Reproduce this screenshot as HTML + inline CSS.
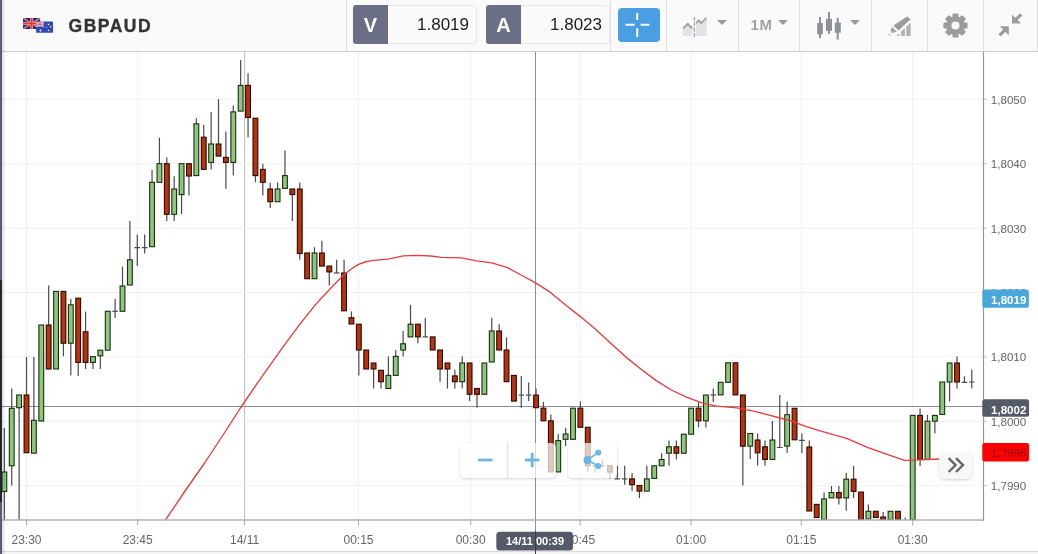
<!DOCTYPE html>
<html lang="en">
<head>
<meta charset="utf-8">
<title>GBPAUD chart</title>
<style>
html,body{margin:0;padding:0;}
body{width:1038px;height:554px;overflow:hidden;background:#fff;position:relative;font-family:"Liberation Sans",Arial,sans-serif;}
#chart{position:absolute;left:0;top:0;}
#hdr{position:absolute;left:0;top:0;width:1038px;height:51px;background:#fafafa;border-bottom:1px solid #cdcdcd;z-index:2;}
#leftbar{position:absolute;left:0;top:0;width:2px;height:554px;background:#5a5d71;z-index:5;}
#leftsh{position:absolute;left:2px;top:0;width:4px;height:554px;background:linear-gradient(to right,rgba(0,0,0,0.13),rgba(0,0,0,0));z-index:5;}
.sep{position:absolute;top:0;width:1px;height:51px;background:#e0e0e0;}
.sym{position:absolute;left:68.6px;top:12.5px;height:26px;line-height:26px;font-size:17.5px;font-weight:bold;color:#333;letter-spacing:1.5px;-webkit-text-stroke:0.35px #333;}
.pbtn{position:absolute;top:5px;height:38.5px;}
.pbtn .k{position:absolute;left:0;top:0;width:35px;height:38.5px;background:#6b6f85;color:#fff;font-weight:bold;font-size:20px;line-height:40.5px;text-align:center;border-radius:3px 0 0 3px;}
.pbtn .v{position:absolute;left:35px;top:0;width:88px;height:36.5px;border:1px solid #e9e9e9;border-left:none;background:#fafafa;border-radius:0 4px 4px 0;color:#222;font-size:17px;line-height:37px;text-align:right;}
.pbtn .v span{display:inline-block;padding-right:7px;letter-spacing:0px;}
#cross{position:absolute;left:618.3px;top:7.5px;width:41.5px;height:34.5px;border-radius:4px;background:#4a9fe3;}
.tb{position:absolute;top:0;height:50px;}
.dd{position:absolute;top:19.8px;width:0;height:0;border-left:5px solid transparent;border-right:5px solid transparent;border-top:5.4px solid #9a9a9a;}
.tf{position:absolute;left:750.5px;top:14px;font-size:15px;font-weight:bold;color:#a2a2a2;line-height:22px;letter-spacing:0.7px;}
.ctl{position:absolute;background:rgba(255,255,255,0.72);border-radius:5px;box-shadow:0 1px 3px rgba(0,0,0,0.18);z-index:3;}
</style>
</head>
<body>
<svg id="chart" width="1038" height="554" viewBox="0 0 1038 554" font-family="'Liberation Sans', sans-serif">
<defs><clipPath id="cp"><rect x="0" y="52" width="983.5" height="468"/></clipPath></defs>
<line x1="26.5" y1="52" x2="26.5" y2="520" stroke="#efefef" stroke-width="1"/>
<line x1="137.7" y1="52" x2="137.7" y2="520" stroke="#efefef" stroke-width="1"/>
<line x1="244.6" y1="52" x2="244.6" y2="520" stroke="#bcbcbc" stroke-width="1"/>
<line x1="358.5" y1="52" x2="358.5" y2="520" stroke="#efefef" stroke-width="1"/>
<line x1="470.7" y1="52" x2="470.7" y2="520" stroke="#efefef" stroke-width="1"/>
<line x1="580.2" y1="52" x2="580.2" y2="520" stroke="#efefef" stroke-width="1"/>
<line x1="691.1" y1="52" x2="691.1" y2="520" stroke="#efefef" stroke-width="1"/>
<line x1="801.3" y1="52" x2="801.3" y2="520" stroke="#efefef" stroke-width="1"/>
<line x1="912.7" y1="52" x2="912.7" y2="520" stroke="#efefef" stroke-width="1"/>
<line x1="0" y1="99.3" x2="983.5" y2="99.3" stroke="#f1f1f1" stroke-width="1"/>
<line x1="0" y1="163.7" x2="983.5" y2="163.7" stroke="#f1f1f1" stroke-width="1"/>
<line x1="0" y1="228.2" x2="983.5" y2="228.2" stroke="#f1f1f1" stroke-width="1"/>
<line x1="0" y1="292.5" x2="983.5" y2="292.5" stroke="#f1f1f1" stroke-width="1"/>
<line x1="0" y1="356.9" x2="983.5" y2="356.9" stroke="#f1f1f1" stroke-width="1"/>
<line x1="0" y1="421.3" x2="983.5" y2="421.3" stroke="#f1f1f1" stroke-width="1"/>
<line x1="0" y1="485.7" x2="983.5" y2="485.7" stroke="#f1f1f1" stroke-width="1"/>
<line x1="0" y1="406.5" x2="983.5" y2="406.5" stroke="#8e8e8e" stroke-width="1"/>
<line x1="535.5" y1="52" x2="535.5" y2="554" stroke="#8e8e8e" stroke-width="1"/>
<g clip-path="url(#cp)">
<line x1="4.34" y1="428.0" x2="4.34" y2="520.0" stroke="#4a4a4a" stroke-width="1.2"/>
<rect x="1.94" y="472.0" width="4.8" height="19.5" fill="#8ec67d" stroke="#16300f" stroke-width="1.1"/>
<line x1="11.73" y1="388.6" x2="11.73" y2="485.5" stroke="#4a4a4a" stroke-width="1.2"/>
<rect x="9.33" y="408.3" width="4.8" height="57.5" fill="#8ec67d" stroke="#16300f" stroke-width="1.1"/>
<line x1="19.12" y1="395.0" x2="19.12" y2="520.0" stroke="#4a4a4a" stroke-width="1.2"/>
<rect x="16.72" y="395.0" width="4.8" height="12.7" fill="#8ec67d" stroke="#16300f" stroke-width="1.1"/>
<line x1="26.50" y1="357.0" x2="26.50" y2="452.7" stroke="#4a4a4a" stroke-width="1.2"/>
<rect x="24.10" y="395.0" width="4.8" height="57.7" fill="#b8320f" stroke="#2a0a00" stroke-width="1.1"/>
<line x1="33.88" y1="357.0" x2="33.88" y2="453.2" stroke="#4a4a4a" stroke-width="1.2"/>
<rect x="31.48" y="420.3" width="4.8" height="32.9" fill="#8ec67d" stroke="#16300f" stroke-width="1.1"/>
<line x1="41.27" y1="325.0" x2="41.27" y2="421.0" stroke="#4a4a4a" stroke-width="1.2"/>
<rect x="38.87" y="325.0" width="4.8" height="96.0" fill="#8ec67d" stroke="#16300f" stroke-width="1.1"/>
<line x1="48.66" y1="285.5" x2="48.66" y2="369.0" stroke="#4a4a4a" stroke-width="1.2"/>
<rect x="46.26" y="325.0" width="4.8" height="44.0" fill="#b8320f" stroke="#2a0a00" stroke-width="1.1"/>
<line x1="56.04" y1="291.4" x2="56.04" y2="369.0" stroke="#4a4a4a" stroke-width="1.2"/>
<rect x="53.64" y="291.4" width="4.8" height="77.6" fill="#8ec67d" stroke="#16300f" stroke-width="1.1"/>
<line x1="63.42" y1="291.4" x2="63.42" y2="356.3" stroke="#4a4a4a" stroke-width="1.2"/>
<rect x="61.02" y="291.4" width="4.8" height="51.8" fill="#b8320f" stroke="#2a0a00" stroke-width="1.1"/>
<line x1="70.81" y1="299.0" x2="70.81" y2="375.5" stroke="#4a4a4a" stroke-width="1.2"/>
<rect x="68.41" y="304.8" width="4.8" height="38.4" fill="#8ec67d" stroke="#16300f" stroke-width="1.1"/>
<line x1="78.19" y1="298.2" x2="78.19" y2="376.0" stroke="#4a4a4a" stroke-width="1.2"/>
<rect x="75.79" y="298.2" width="4.8" height="64.2" fill="#b8320f" stroke="#2a0a00" stroke-width="1.1"/>
<line x1="85.58" y1="311.6" x2="85.58" y2="369.0" stroke="#4a4a4a" stroke-width="1.2"/>
<rect x="83.18" y="331.8" width="4.8" height="30.6" fill="#b8320f" stroke="#2a0a00" stroke-width="1.1"/>
<line x1="92.97" y1="356.6" x2="92.97" y2="369.0" stroke="#4a4a4a" stroke-width="1.2"/>
<rect x="90.56" y="356.6" width="4.8" height="5.8" fill="#8ec67d" stroke="#16300f" stroke-width="1.1"/>
<line x1="100.35" y1="350.2" x2="100.35" y2="369.0" stroke="#4a4a4a" stroke-width="1.2"/>
<rect x="97.95" y="350.2" width="4.8" height="5.6" fill="#8ec67d" stroke="#16300f" stroke-width="1.1"/>
<line x1="107.73" y1="311.3" x2="107.73" y2="350.2" stroke="#4a4a4a" stroke-width="1.2"/>
<rect x="105.33" y="311.3" width="4.8" height="38.9" fill="#8ec67d" stroke="#16300f" stroke-width="1.1"/>
<line x1="115.12" y1="299.0" x2="115.12" y2="318.0" stroke="#4a4a4a" stroke-width="1.2"/>
<line x1="112.32" y1="311.3" x2="117.92" y2="311.3" stroke="#4a4a4a" stroke-width="1.2"/>
<line x1="122.50" y1="266.6" x2="122.50" y2="311.3" stroke="#4a4a4a" stroke-width="1.2"/>
<rect x="120.10" y="286.0" width="4.8" height="25.3" fill="#8ec67d" stroke="#16300f" stroke-width="1.1"/>
<line x1="129.89" y1="221.1" x2="129.89" y2="285.0" stroke="#4a4a4a" stroke-width="1.2"/>
<rect x="127.49" y="259.8" width="4.8" height="25.2" fill="#8ec67d" stroke="#16300f" stroke-width="1.1"/>
<line x1="137.27" y1="234.5" x2="137.27" y2="266.1" stroke="#4a4a4a" stroke-width="1.2"/>
<line x1="134.47" y1="247.7" x2="140.07" y2="247.7" stroke="#4a4a4a" stroke-width="1.2"/>
<line x1="144.66" y1="234.5" x2="144.66" y2="253.5" stroke="#4a4a4a" stroke-width="1.2"/>
<line x1="141.86" y1="247.7" x2="147.46" y2="247.7" stroke="#4a4a4a" stroke-width="1.2"/>
<line x1="152.05" y1="170.0" x2="152.05" y2="246.7" stroke="#4a4a4a" stroke-width="1.2"/>
<rect x="149.65" y="182.3" width="4.8" height="64.4" fill="#8ec67d" stroke="#16300f" stroke-width="1.1"/>
<line x1="159.43" y1="137.7" x2="159.43" y2="182.3" stroke="#4a4a4a" stroke-width="1.2"/>
<rect x="157.03" y="163.7" width="4.8" height="18.6" fill="#8ec67d" stroke="#16300f" stroke-width="1.1"/>
<line x1="166.81" y1="157.4" x2="166.81" y2="221.1" stroke="#4a4a4a" stroke-width="1.2"/>
<rect x="164.41" y="163.7" width="4.8" height="50.6" fill="#b8320f" stroke="#2a0a00" stroke-width="1.1"/>
<line x1="174.20" y1="176.3" x2="174.20" y2="221.1" stroke="#4a4a4a" stroke-width="1.2"/>
<rect x="171.80" y="189.0" width="4.8" height="25.3" fill="#8ec67d" stroke="#16300f" stroke-width="1.1"/>
<line x1="181.59" y1="163.7" x2="181.59" y2="214.3" stroke="#4a4a4a" stroke-width="1.2"/>
<rect x="179.19" y="163.7" width="4.8" height="30.9" fill="#8ec67d" stroke="#16300f" stroke-width="1.1"/>
<line x1="188.97" y1="163.7" x2="188.97" y2="195.4" stroke="#4a4a4a" stroke-width="1.2"/>
<rect x="186.57" y="163.7" width="4.8" height="12.3" fill="#b8320f" stroke="#2a0a00" stroke-width="1.1"/>
<line x1="196.35" y1="118.2" x2="196.35" y2="175.6" stroke="#4a4a4a" stroke-width="1.2"/>
<rect x="193.95" y="123.8" width="4.8" height="51.8" fill="#8ec67d" stroke="#16300f" stroke-width="1.1"/>
<line x1="203.74" y1="125.0" x2="203.74" y2="169.4" stroke="#4a4a4a" stroke-width="1.2"/>
<rect x="201.34" y="137.2" width="4.8" height="32.2" fill="#b8320f" stroke="#2a0a00" stroke-width="1.1"/>
<line x1="211.12" y1="111.9" x2="211.12" y2="169.4" stroke="#4a4a4a" stroke-width="1.2"/>
<rect x="208.72" y="144.0" width="4.8" height="18.4" fill="#8ec67d" stroke="#16300f" stroke-width="1.1"/>
<line x1="218.51" y1="99.3" x2="218.51" y2="156.1" stroke="#4a4a4a" stroke-width="1.2"/>
<rect x="216.11" y="144.0" width="4.8" height="12.1" fill="#b8320f" stroke="#2a0a00" stroke-width="1.1"/>
<line x1="225.89" y1="131.4" x2="225.89" y2="188.8" stroke="#4a4a4a" stroke-width="1.2"/>
<rect x="223.49" y="157.4" width="4.8" height="5.0" fill="#b8320f" stroke="#2a0a00" stroke-width="1.1"/>
<line x1="233.28" y1="105.6" x2="233.28" y2="175.6" stroke="#4a4a4a" stroke-width="1.2"/>
<rect x="230.88" y="111.9" width="4.8" height="50.5" fill="#8ec67d" stroke="#16300f" stroke-width="1.1"/>
<line x1="240.66" y1="60.1" x2="240.66" y2="111.1" stroke="#4a4a4a" stroke-width="1.2"/>
<rect x="238.26" y="85.4" width="4.8" height="25.7" fill="#8ec67d" stroke="#16300f" stroke-width="1.1"/>
<line x1="248.05" y1="73.2" x2="248.05" y2="137.2" stroke="#4a4a4a" stroke-width="1.2"/>
<rect x="245.65" y="85.4" width="4.8" height="32.1" fill="#b8320f" stroke="#2a0a00" stroke-width="1.1"/>
<line x1="255.44" y1="118.2" x2="255.44" y2="182.3" stroke="#4a4a4a" stroke-width="1.2"/>
<rect x="253.03" y="118.2" width="4.8" height="57.4" fill="#b8320f" stroke="#2a0a00" stroke-width="1.1"/>
<line x1="262.82" y1="163.7" x2="262.82" y2="195.4" stroke="#4a4a4a" stroke-width="1.2"/>
<rect x="260.42" y="169.4" width="4.8" height="12.9" fill="#b8320f" stroke="#2a0a00" stroke-width="1.1"/>
<line x1="270.20" y1="182.6" x2="270.20" y2="208.0" stroke="#4a4a4a" stroke-width="1.2"/>
<rect x="267.81" y="189.0" width="4.8" height="12.7" fill="#b8320f" stroke="#2a0a00" stroke-width="1.1"/>
<line x1="277.59" y1="182.6" x2="277.59" y2="201.7" stroke="#4a4a4a" stroke-width="1.2"/>
<rect x="275.19" y="189.0" width="4.8" height="12.7" fill="#8ec67d" stroke="#16300f" stroke-width="1.1"/>
<line x1="284.97" y1="150.6" x2="284.97" y2="188.4" stroke="#4a4a4a" stroke-width="1.2"/>
<rect x="282.57" y="175.6" width="4.8" height="12.8" fill="#8ec67d" stroke="#16300f" stroke-width="1.1"/>
<line x1="292.36" y1="189.0" x2="292.36" y2="221.1" stroke="#4a4a4a" stroke-width="1.2"/>
<rect x="289.96" y="189.0" width="4.8" height="5.6" fill="#b8320f" stroke="#2a0a00" stroke-width="1.1"/>
<line x1="299.75" y1="182.6" x2="299.75" y2="259.8" stroke="#4a4a4a" stroke-width="1.2"/>
<rect x="297.35" y="189.0" width="4.8" height="64.5" fill="#b8320f" stroke="#2a0a00" stroke-width="1.1"/>
<line x1="307.13" y1="253.0" x2="307.13" y2="278.7" stroke="#4a4a4a" stroke-width="1.2"/>
<rect x="304.73" y="253.0" width="4.8" height="25.7" fill="#b8320f" stroke="#2a0a00" stroke-width="1.1"/>
<line x1="314.51" y1="247.2" x2="314.51" y2="278.7" stroke="#4a4a4a" stroke-width="1.2"/>
<rect x="312.12" y="253.0" width="4.8" height="25.7" fill="#8ec67d" stroke="#16300f" stroke-width="1.1"/>
<line x1="321.90" y1="240.8" x2="321.90" y2="266.1" stroke="#4a4a4a" stroke-width="1.2"/>
<rect x="319.50" y="253.0" width="4.8" height="13.1" fill="#b8320f" stroke="#2a0a00" stroke-width="1.1"/>
<line x1="329.28" y1="266.1" x2="329.28" y2="285.6" stroke="#4a4a4a" stroke-width="1.2"/>
<rect x="326.88" y="266.1" width="4.8" height="5.8" fill="#b8320f" stroke="#2a0a00" stroke-width="1.1"/>
<line x1="336.67" y1="259.8" x2="336.67" y2="273.0" stroke="#4a4a4a" stroke-width="1.2"/>
<line x1="333.87" y1="273.0" x2="339.47" y2="273.0" stroke="#4a4a4a" stroke-width="1.2"/>
<line x1="344.06" y1="259.8" x2="344.06" y2="310.8" stroke="#4a4a4a" stroke-width="1.2"/>
<rect x="341.66" y="273.0" width="4.8" height="37.8" fill="#b8320f" stroke="#2a0a00" stroke-width="1.1"/>
<line x1="351.44" y1="311.4" x2="351.44" y2="324.0" stroke="#4a4a4a" stroke-width="1.2"/>
<rect x="349.04" y="317.7" width="4.8" height="6.3" fill="#b8320f" stroke="#2a0a00" stroke-width="1.1"/>
<line x1="358.82" y1="324.2" x2="358.82" y2="375.4" stroke="#4a4a4a" stroke-width="1.2"/>
<rect x="356.43" y="324.2" width="4.8" height="25.8" fill="#b8320f" stroke="#2a0a00" stroke-width="1.1"/>
<line x1="366.21" y1="350.0" x2="366.21" y2="369.0" stroke="#4a4a4a" stroke-width="1.2"/>
<rect x="363.81" y="350.0" width="4.8" height="19.0" fill="#b8320f" stroke="#2a0a00" stroke-width="1.1"/>
<line x1="373.59" y1="363.0" x2="373.59" y2="388.5" stroke="#4a4a4a" stroke-width="1.2"/>
<rect x="371.19" y="363.0" width="4.8" height="6.0" fill="#b8320f" stroke="#2a0a00" stroke-width="1.1"/>
<line x1="380.98" y1="370.3" x2="380.98" y2="388.5" stroke="#4a4a4a" stroke-width="1.2"/>
<rect x="378.58" y="370.3" width="4.8" height="11.4" fill="#b8320f" stroke="#2a0a00" stroke-width="1.1"/>
<line x1="388.37" y1="356.4" x2="388.37" y2="388.5" stroke="#4a4a4a" stroke-width="1.2"/>
<rect x="385.97" y="375.4" width="4.8" height="13.1" fill="#8ec67d" stroke="#16300f" stroke-width="1.1"/>
<line x1="395.75" y1="350.0" x2="395.75" y2="375.4" stroke="#4a4a4a" stroke-width="1.2"/>
<rect x="393.35" y="356.4" width="4.8" height="19.0" fill="#8ec67d" stroke="#16300f" stroke-width="1.1"/>
<line x1="403.13" y1="331.0" x2="403.13" y2="356.4" stroke="#4a4a4a" stroke-width="1.2"/>
<rect x="400.74" y="343.8" width="4.8" height="6.2" fill="#8ec67d" stroke="#16300f" stroke-width="1.1"/>
<line x1="410.52" y1="305.0" x2="410.52" y2="336.9" stroke="#4a4a4a" stroke-width="1.2"/>
<rect x="408.12" y="324.2" width="4.8" height="12.7" fill="#8ec67d" stroke="#16300f" stroke-width="1.1"/>
<line x1="417.90" y1="324.2" x2="417.90" y2="343.2" stroke="#4a4a4a" stroke-width="1.2"/>
<rect x="415.50" y="324.2" width="4.8" height="12.7" fill="#b8320f" stroke="#2a0a00" stroke-width="1.1"/>
<line x1="425.29" y1="317.7" x2="425.29" y2="336.9" stroke="#4a4a4a" stroke-width="1.2"/>
<line x1="422.49" y1="336.9" x2="428.09" y2="336.9" stroke="#4a4a4a" stroke-width="1.2"/>
<line x1="432.68" y1="336.9" x2="432.68" y2="350.0" stroke="#4a4a4a" stroke-width="1.2"/>
<rect x="430.28" y="336.9" width="4.8" height="13.1" fill="#b8320f" stroke="#2a0a00" stroke-width="1.1"/>
<line x1="440.06" y1="350.0" x2="440.06" y2="381.7" stroke="#4a4a4a" stroke-width="1.2"/>
<rect x="437.66" y="350.0" width="4.8" height="19.0" fill="#b8320f" stroke="#2a0a00" stroke-width="1.1"/>
<line x1="447.44" y1="363.0" x2="447.44" y2="388.5" stroke="#4a4a4a" stroke-width="1.2"/>
<rect x="445.05" y="363.0" width="4.8" height="6.0" fill="#b8320f" stroke="#2a0a00" stroke-width="1.1"/>
<line x1="454.83" y1="369.8" x2="454.83" y2="388.5" stroke="#4a4a4a" stroke-width="1.2"/>
<rect x="452.43" y="375.9" width="4.8" height="5.8" fill="#b8320f" stroke="#2a0a00" stroke-width="1.1"/>
<line x1="462.21" y1="356.4" x2="462.21" y2="388.5" stroke="#4a4a4a" stroke-width="1.2"/>
<rect x="459.81" y="363.0" width="4.8" height="18.7" fill="#8ec67d" stroke="#16300f" stroke-width="1.1"/>
<line x1="469.60" y1="363.0" x2="469.60" y2="401.1" stroke="#4a4a4a" stroke-width="1.2"/>
<rect x="467.20" y="363.0" width="4.8" height="31.3" fill="#b8320f" stroke="#2a0a00" stroke-width="1.1"/>
<line x1="476.99" y1="388.5" x2="476.99" y2="407.7" stroke="#4a4a4a" stroke-width="1.2"/>
<rect x="474.59" y="388.5" width="4.8" height="5.8" fill="#b8320f" stroke="#2a0a00" stroke-width="1.1"/>
<line x1="484.37" y1="363.0" x2="484.37" y2="394.3" stroke="#4a4a4a" stroke-width="1.2"/>
<rect x="481.97" y="363.0" width="4.8" height="31.3" fill="#8ec67d" stroke="#16300f" stroke-width="1.1"/>
<line x1="491.75" y1="317.7" x2="491.75" y2="362.0" stroke="#4a4a4a" stroke-width="1.2"/>
<rect x="489.36" y="331.0" width="4.8" height="31.0" fill="#8ec67d" stroke="#16300f" stroke-width="1.1"/>
<line x1="499.14" y1="324.2" x2="499.14" y2="350.0" stroke="#4a4a4a" stroke-width="1.2"/>
<rect x="496.74" y="331.0" width="4.8" height="19.0" fill="#b8320f" stroke="#2a0a00" stroke-width="1.1"/>
<line x1="506.52" y1="337.4" x2="506.52" y2="381.7" stroke="#4a4a4a" stroke-width="1.2"/>
<rect x="504.12" y="350.0" width="4.8" height="31.7" fill="#b8320f" stroke="#2a0a00" stroke-width="1.1"/>
<line x1="513.91" y1="375.4" x2="513.91" y2="401.1" stroke="#4a4a4a" stroke-width="1.2"/>
<rect x="511.51" y="375.4" width="4.8" height="25.7" fill="#b8320f" stroke="#2a0a00" stroke-width="1.1"/>
<line x1="521.29" y1="375.9" x2="521.29" y2="407.7" stroke="#4a4a4a" stroke-width="1.2"/>
<line x1="518.50" y1="395.1" x2="524.09" y2="395.1" stroke="#4a4a4a" stroke-width="1.2"/>
<line x1="528.68" y1="382.4" x2="528.68" y2="401.1" stroke="#4a4a4a" stroke-width="1.2"/>
<line x1="525.88" y1="395.1" x2="531.48" y2="395.1" stroke="#4a4a4a" stroke-width="1.2"/>
<line x1="536.07" y1="388.5" x2="536.07" y2="407.7" stroke="#4a4a4a" stroke-width="1.2"/>
<rect x="533.67" y="395.1" width="4.8" height="12.6" fill="#b8320f" stroke="#2a0a00" stroke-width="1.1"/>
<line x1="543.45" y1="401.9" x2="543.45" y2="420.8" stroke="#4a4a4a" stroke-width="1.2"/>
<rect x="541.05" y="408.2" width="4.8" height="12.6" fill="#b8320f" stroke="#2a0a00" stroke-width="1.1"/>
<line x1="550.84" y1="414.5" x2="550.84" y2="471.9" stroke="#4a4a4a" stroke-width="1.2"/>
<rect x="548.44" y="420.8" width="4.8" height="51.1" fill="#b8320f" stroke="#2a0a00" stroke-width="1.1"/>
<line x1="558.22" y1="434.0" x2="558.22" y2="471.9" stroke="#4a4a4a" stroke-width="1.2"/>
<rect x="555.82" y="440.6" width="4.8" height="31.3" fill="#8ec67d" stroke="#16300f" stroke-width="1.1"/>
<line x1="565.61" y1="427.7" x2="565.61" y2="446.1" stroke="#4a4a4a" stroke-width="1.2"/>
<rect x="563.21" y="434.0" width="4.8" height="5.3" fill="#8ec67d" stroke="#16300f" stroke-width="1.1"/>
<line x1="572.99" y1="408.2" x2="572.99" y2="439.3" stroke="#4a4a4a" stroke-width="1.2"/>
<rect x="570.59" y="408.2" width="4.8" height="31.1" fill="#8ec67d" stroke="#16300f" stroke-width="1.1"/>
<line x1="580.38" y1="401.4" x2="580.38" y2="427.3" stroke="#4a4a4a" stroke-width="1.2"/>
<rect x="577.98" y="408.2" width="4.8" height="19.1" fill="#b8320f" stroke="#2a0a00" stroke-width="1.1"/>
<line x1="587.76" y1="427.3" x2="587.76" y2="472.1" stroke="#4a4a4a" stroke-width="1.2"/>
<rect x="585.36" y="427.3" width="4.8" height="38.5" fill="#b8320f" stroke="#2a0a00" stroke-width="1.1"/>
<line x1="595.14" y1="466.0" x2="595.14" y2="472.3" stroke="#4a4a4a" stroke-width="1.2"/>
<line x1="592.35" y1="466.0" x2="597.94" y2="466.0" stroke="#4a4a4a" stroke-width="1.2"/>
<line x1="602.53" y1="460.0" x2="602.53" y2="467.0" stroke="#4a4a4a" stroke-width="1.2"/>
<line x1="599.73" y1="466.0" x2="605.33" y2="466.0" stroke="#4a4a4a" stroke-width="1.2"/>
<line x1="609.91" y1="465.8" x2="609.91" y2="478.4" stroke="#4a4a4a" stroke-width="1.2"/>
<rect x="607.51" y="465.8" width="4.8" height="6.3" fill="#b8320f" stroke="#2a0a00" stroke-width="1.1"/>
<line x1="617.30" y1="465.8" x2="617.30" y2="478.9" stroke="#4a4a4a" stroke-width="1.2"/>
<line x1="614.50" y1="478.9" x2="620.10" y2="478.9" stroke="#4a4a4a" stroke-width="1.2"/>
<line x1="624.68" y1="465.8" x2="624.68" y2="484.7" stroke="#4a4a4a" stroke-width="1.2"/>
<line x1="621.88" y1="478.9" x2="627.48" y2="478.9" stroke="#4a4a4a" stroke-width="1.2"/>
<line x1="632.07" y1="472.9" x2="632.07" y2="491.1" stroke="#4a4a4a" stroke-width="1.2"/>
<rect x="629.67" y="478.9" width="4.8" height="5.8" fill="#b8320f" stroke="#2a0a00" stroke-width="1.1"/>
<line x1="639.45" y1="485.5" x2="639.45" y2="498.1" stroke="#4a4a4a" stroke-width="1.2"/>
<rect x="637.05" y="485.5" width="4.8" height="5.6" fill="#b8320f" stroke="#2a0a00" stroke-width="1.1"/>
<line x1="646.84" y1="465.8" x2="646.84" y2="491.1" stroke="#4a4a4a" stroke-width="1.2"/>
<rect x="644.44" y="478.9" width="4.8" height="12.2" fill="#8ec67d" stroke="#16300f" stroke-width="1.1"/>
<line x1="654.23" y1="465.8" x2="654.23" y2="478.4" stroke="#4a4a4a" stroke-width="1.2"/>
<rect x="651.83" y="465.8" width="4.8" height="12.6" fill="#8ec67d" stroke="#16300f" stroke-width="1.1"/>
<line x1="661.61" y1="453.2" x2="661.61" y2="465.8" stroke="#4a4a4a" stroke-width="1.2"/>
<rect x="659.21" y="459.5" width="4.8" height="6.3" fill="#8ec67d" stroke="#16300f" stroke-width="1.1"/>
<line x1="669.00" y1="440.5" x2="669.00" y2="465.8" stroke="#4a4a4a" stroke-width="1.2"/>
<rect x="666.60" y="446.8" width="4.8" height="6.4" fill="#8ec67d" stroke="#16300f" stroke-width="1.1"/>
<line x1="676.38" y1="440.5" x2="676.38" y2="459.5" stroke="#4a4a4a" stroke-width="1.2"/>
<rect x="673.98" y="446.8" width="4.8" height="6.4" fill="#b8320f" stroke="#2a0a00" stroke-width="1.1"/>
<line x1="683.76" y1="434.2" x2="683.76" y2="453.2" stroke="#4a4a4a" stroke-width="1.2"/>
<rect x="681.37" y="434.2" width="4.8" height="19.0" fill="#8ec67d" stroke="#16300f" stroke-width="1.1"/>
<line x1="691.15" y1="408.2" x2="691.15" y2="434.2" stroke="#4a4a4a" stroke-width="1.2"/>
<rect x="688.75" y="408.2" width="4.8" height="26.0" fill="#8ec67d" stroke="#16300f" stroke-width="1.1"/>
<line x1="698.53" y1="402.1" x2="698.53" y2="427.4" stroke="#4a4a4a" stroke-width="1.2"/>
<rect x="696.13" y="408.2" width="4.8" height="12.6" fill="#b8320f" stroke="#2a0a00" stroke-width="1.1"/>
<line x1="705.92" y1="395.0" x2="705.92" y2="427.4" stroke="#4a4a4a" stroke-width="1.2"/>
<rect x="703.52" y="395.0" width="4.8" height="25.8" fill="#8ec67d" stroke="#16300f" stroke-width="1.1"/>
<line x1="713.30" y1="388.6" x2="713.30" y2="402.0" stroke="#4a4a4a" stroke-width="1.2"/>
<line x1="710.50" y1="395.0" x2="716.10" y2="395.0" stroke="#4a4a4a" stroke-width="1.2"/>
<line x1="720.69" y1="382.3" x2="720.69" y2="394.9" stroke="#4a4a4a" stroke-width="1.2"/>
<rect x="718.29" y="382.3" width="4.8" height="12.6" fill="#8ec67d" stroke="#16300f" stroke-width="1.1"/>
<line x1="728.07" y1="362.8" x2="728.07" y2="382.3" stroke="#4a4a4a" stroke-width="1.2"/>
<rect x="725.67" y="362.8" width="4.8" height="19.5" fill="#8ec67d" stroke="#16300f" stroke-width="1.1"/>
<line x1="735.46" y1="362.8" x2="735.46" y2="394.9" stroke="#4a4a4a" stroke-width="1.2"/>
<rect x="733.06" y="362.8" width="4.8" height="32.1" fill="#b8320f" stroke="#2a0a00" stroke-width="1.1"/>
<line x1="742.85" y1="395.0" x2="742.85" y2="485.5" stroke="#4a4a4a" stroke-width="1.2"/>
<rect x="740.45" y="395.0" width="4.8" height="51.2" fill="#b8320f" stroke="#2a0a00" stroke-width="1.1"/>
<line x1="750.23" y1="433.5" x2="750.23" y2="459.0" stroke="#4a4a4a" stroke-width="1.2"/>
<rect x="747.83" y="433.5" width="4.8" height="12.6" fill="#8ec67d" stroke="#16300f" stroke-width="1.1"/>
<line x1="757.62" y1="433.5" x2="757.62" y2="465.5" stroke="#4a4a4a" stroke-width="1.2"/>
<rect x="755.22" y="440.0" width="4.8" height="12.8" fill="#b8320f" stroke="#2a0a00" stroke-width="1.1"/>
<line x1="765.00" y1="440.5" x2="765.00" y2="465.8" stroke="#4a4a4a" stroke-width="1.2"/>
<rect x="762.60" y="446.8" width="4.8" height="12.6" fill="#b8320f" stroke="#2a0a00" stroke-width="1.1"/>
<line x1="772.38" y1="421.0" x2="772.38" y2="459.4" stroke="#4a4a4a" stroke-width="1.2"/>
<rect x="769.99" y="440.0" width="4.8" height="19.4" fill="#8ec67d" stroke="#16300f" stroke-width="1.1"/>
<line x1="779.77" y1="395.0" x2="779.77" y2="447.5" stroke="#4a4a4a" stroke-width="1.2"/>
<line x1="776.97" y1="447.5" x2="782.57" y2="447.5" stroke="#4a4a4a" stroke-width="1.2"/>
<line x1="787.15" y1="401.5" x2="787.15" y2="453.0" stroke="#4a4a4a" stroke-width="1.2"/>
<rect x="784.75" y="414.7" width="4.8" height="31.4" fill="#8ec67d" stroke="#16300f" stroke-width="1.1"/>
<line x1="794.54" y1="408.3" x2="794.54" y2="439.8" stroke="#4a4a4a" stroke-width="1.2"/>
<rect x="792.14" y="408.3" width="4.8" height="31.5" fill="#b8320f" stroke="#2a0a00" stroke-width="1.1"/>
<line x1="801.92" y1="433.6" x2="801.92" y2="453.0" stroke="#4a4a4a" stroke-width="1.2"/>
<line x1="799.12" y1="440.4" x2="804.72" y2="440.4" stroke="#4a4a4a" stroke-width="1.2"/>
<line x1="809.31" y1="440.4" x2="809.31" y2="511.0" stroke="#4a4a4a" stroke-width="1.2"/>
<rect x="806.91" y="447.0" width="4.8" height="64.0" fill="#b8320f" stroke="#2a0a00" stroke-width="1.1"/>
<line x1="816.69" y1="504.4" x2="816.69" y2="517.5" stroke="#4a4a4a" stroke-width="1.2"/>
<rect x="814.29" y="504.4" width="4.8" height="13.1" fill="#b8320f" stroke="#2a0a00" stroke-width="1.1"/>
<line x1="824.08" y1="492.6" x2="824.08" y2="519.5" stroke="#4a4a4a" stroke-width="1.2"/>
<rect x="821.68" y="498.9" width="4.8" height="20.6" fill="#8ec67d" stroke="#16300f" stroke-width="1.1"/>
<line x1="831.47" y1="485.9" x2="831.47" y2="497.9" stroke="#4a4a4a" stroke-width="1.2"/>
<rect x="829.07" y="492.6" width="4.8" height="5.3" fill="#8ec67d" stroke="#16300f" stroke-width="1.1"/>
<line x1="838.85" y1="485.9" x2="838.85" y2="504.6" stroke="#4a4a4a" stroke-width="1.2"/>
<rect x="836.45" y="492.6" width="4.8" height="5.3" fill="#b8320f" stroke="#2a0a00" stroke-width="1.1"/>
<line x1="846.24" y1="472.7" x2="846.24" y2="510.8" stroke="#4a4a4a" stroke-width="1.2"/>
<rect x="843.84" y="479.2" width="4.8" height="18.7" fill="#8ec67d" stroke="#16300f" stroke-width="1.1"/>
<line x1="853.62" y1="466.0" x2="853.62" y2="497.9" stroke="#4a4a4a" stroke-width="1.2"/>
<rect x="851.22" y="479.2" width="4.8" height="12.2" fill="#b8320f" stroke="#2a0a00" stroke-width="1.1"/>
<line x1="861.00" y1="492.1" x2="861.00" y2="519.5" stroke="#4a4a4a" stroke-width="1.2"/>
<rect x="858.61" y="492.1" width="4.8" height="27.4" fill="#b8320f" stroke="#2a0a00" stroke-width="1.1"/>
<line x1="868.39" y1="504.6" x2="868.39" y2="519.0" stroke="#4a4a4a" stroke-width="1.2"/>
<rect x="865.99" y="511.3" width="4.8" height="7.7" fill="#8ec67d" stroke="#16300f" stroke-width="1.1"/>
<line x1="875.77" y1="511.3" x2="875.77" y2="517.5" stroke="#4a4a4a" stroke-width="1.2"/>
<rect x="873.38" y="511.3" width="4.8" height="6.2" fill="#b8320f" stroke="#2a0a00" stroke-width="1.1"/>
<line x1="883.16" y1="512.0" x2="883.16" y2="519.5" stroke="#4a4a4a" stroke-width="1.2"/>
<rect x="880.76" y="517.0" width="4.8" height="2.5" fill="#b8320f" stroke="#2a0a00" stroke-width="1.1"/>
<line x1="890.54" y1="511.3" x2="890.54" y2="519.5" stroke="#4a4a4a" stroke-width="1.2"/>
<rect x="888.14" y="511.3" width="4.8" height="8.2" fill="#8ec67d" stroke="#16300f" stroke-width="1.1"/>
<line x1="897.93" y1="511.3" x2="897.93" y2="519.5" stroke="#4a4a4a" stroke-width="1.2"/>
<rect x="895.53" y="511.3" width="4.8" height="8.2" fill="#b8320f" stroke="#2a0a00" stroke-width="1.1"/>
<line x1="912.70" y1="415.4" x2="912.70" y2="519.5" stroke="#4a4a4a" stroke-width="1.2"/>
<rect x="910.30" y="415.4" width="4.8" height="104.1" fill="#8ec67d" stroke="#16300f" stroke-width="1.1"/>
<line x1="920.08" y1="408.5" x2="920.08" y2="466.0" stroke="#4a4a4a" stroke-width="1.2"/>
<rect x="917.68" y="415.4" width="4.8" height="43.9" fill="#b8320f" stroke="#2a0a00" stroke-width="1.1"/>
<line x1="927.47" y1="414.7" x2="927.47" y2="459.3" stroke="#4a4a4a" stroke-width="1.2"/>
<rect x="925.07" y="421.2" width="4.8" height="38.1" fill="#8ec67d" stroke="#16300f" stroke-width="1.1"/>
<line x1="934.86" y1="415.4" x2="934.86" y2="433.6" stroke="#4a4a4a" stroke-width="1.2"/>
<rect x="932.46" y="415.4" width="4.8" height="5.8" fill="#8ec67d" stroke="#16300f" stroke-width="1.1"/>
<line x1="942.24" y1="382.0" x2="942.24" y2="414.4" stroke="#4a4a4a" stroke-width="1.2"/>
<rect x="939.84" y="382.0" width="4.8" height="32.4" fill="#8ec67d" stroke="#16300f" stroke-width="1.1"/>
<line x1="949.62" y1="363.0" x2="949.62" y2="401.5" stroke="#4a4a4a" stroke-width="1.2"/>
<rect x="947.23" y="363.0" width="4.8" height="19.0" fill="#8ec67d" stroke="#16300f" stroke-width="1.1"/>
<line x1="957.01" y1="356.4" x2="957.01" y2="388.5" stroke="#4a4a4a" stroke-width="1.2"/>
<rect x="954.61" y="363.0" width="4.8" height="19.0" fill="#b8320f" stroke="#2a0a00" stroke-width="1.1"/>
<line x1="964.39" y1="376.3" x2="964.39" y2="382.4" stroke="#4a4a4a" stroke-width="1.2"/>
<line x1="961.60" y1="382.4" x2="967.19" y2="382.4" stroke="#4a4a4a" stroke-width="1.2"/>
<line x1="971.78" y1="369.4" x2="971.78" y2="388.5" stroke="#4a4a4a" stroke-width="1.2"/>
<line x1="968.98" y1="382.0" x2="974.58" y2="382.0" stroke="#4a4a4a" stroke-width="1.2"/>
<polyline fill="none" stroke="#ea3c3c" stroke-width="1.35" stroke-linejoin="round" points="165.5,520.0 185.0,491.0 204.6,463.0 225.0,432.0 240.1,408.5 255.3,386.2 270.4,364.7 285.6,343.3 300.7,323.1 315.9,304.1 331.1,287.7 343.7,275.1 351.3,269.0 357.8,264.6 365.0,262.0 373.0,260.3 388.1,259.1 403.3,255.8 417.2,255.3 431.0,256.0 441.2,257.3 461.4,257.8 476.5,260.8 491.7,262.8 506.9,267.4 522.0,275.5 535.9,283.1 549.8,291.9 565.3,304.8 580.4,316.6 595.6,329.3 610.7,343.2 625.9,357.1 641.1,369.3 656.2,380.6 671.4,390.0 686.5,397.2 701.7,402.8 716.9,406.1 737.0,407.8 754.8,411.4 766.3,414.4 780.0,418.0 791.6,421.0 804.9,426.1 816.9,429.8 829.8,433.6 847.2,438.6 867.3,447.4 887.1,454.3 904.5,460.3 919.5,459.8 939.0,459.0"/>
</g>
<line x1="0" y1="520" x2="984.0" y2="520" stroke="#b0b0b0" stroke-width="1.6"/>
<line x1="983.5" y1="51" x2="983.5" y2="520.8" stroke="#959595" stroke-width="1.2"/>
<line x1="26.5" y1="520" x2="26.5" y2="525.5" stroke="#a8a8a8" stroke-width="1"/>
<line x1="137.7" y1="520" x2="137.7" y2="525.5" stroke="#a8a8a8" stroke-width="1"/>
<line x1="244.6" y1="520" x2="244.6" y2="525.5" stroke="#a8a8a8" stroke-width="1"/>
<line x1="358.5" y1="520" x2="358.5" y2="525.5" stroke="#a8a8a8" stroke-width="1"/>
<line x1="470.7" y1="520" x2="470.7" y2="525.5" stroke="#a8a8a8" stroke-width="1"/>
<line x1="580.2" y1="520" x2="580.2" y2="525.5" stroke="#a8a8a8" stroke-width="1"/>
<line x1="691.1" y1="520" x2="691.1" y2="525.5" stroke="#a8a8a8" stroke-width="1"/>
<line x1="801.3" y1="520" x2="801.3" y2="525.5" stroke="#a8a8a8" stroke-width="1"/>
<line x1="912.7" y1="520" x2="912.7" y2="525.5" stroke="#a8a8a8" stroke-width="1"/>
<line x1="983.5" y1="99.3" x2="987.0" y2="99.3" stroke="#c4c4c4" stroke-width="1"/>
<text x="990.8" y="103.6" font-size="11.6" fill="#666666">1,8050</text>
<line x1="983.5" y1="163.7" x2="987.0" y2="163.7" stroke="#c4c4c4" stroke-width="1"/>
<text x="990.8" y="168.0" font-size="11.6" fill="#666666">1,8040</text>
<line x1="983.5" y1="228.2" x2="987.0" y2="228.2" stroke="#c4c4c4" stroke-width="1"/>
<text x="990.8" y="232.5" font-size="11.6" fill="#666666">1,8030</text>
<line x1="983.5" y1="292.5" x2="987.0" y2="292.5" stroke="#c4c4c4" stroke-width="1"/>
<text x="990.8" y="296.8" font-size="11.6" fill="#666666">1,8020</text>
<line x1="983.5" y1="356.9" x2="987.0" y2="356.9" stroke="#c4c4c4" stroke-width="1"/>
<text x="990.8" y="361.2" font-size="11.6" fill="#666666">1,8010</text>
<line x1="983.5" y1="421.3" x2="987.0" y2="421.3" stroke="#c4c4c4" stroke-width="1"/>
<text x="990.8" y="425.6" font-size="11.6" fill="#666666">1,8000</text>
<line x1="983.5" y1="485.7" x2="987.0" y2="485.7" stroke="#c4c4c4" stroke-width="1"/>
<text x="990.8" y="490.0" font-size="11.6" fill="#666666">1,7990</text>
<text x="26.5" y="544.3" font-size="12" fill="#666666" text-anchor="middle">23:30</text>
<text x="137.7" y="544.3" font-size="12" fill="#666666" text-anchor="middle">23:45</text>
<text x="244.6" y="544.3" font-size="12" fill="#666666" text-anchor="middle">14/11</text>
<text x="358.5" y="544.3" font-size="12" fill="#666666" text-anchor="middle">00:15</text>
<text x="470.7" y="544.3" font-size="12" fill="#666666" text-anchor="middle">00:30</text>
<text x="580.2" y="544.3" font-size="12" fill="#666666" text-anchor="middle">00:45</text>
<text x="691.1" y="544.3" font-size="12" fill="#666666" text-anchor="middle">01:00</text>
<text x="801.3" y="544.3" font-size="12" fill="#666666" text-anchor="middle">01:15</text>
<text x="912.7" y="544.3" font-size="12" fill="#666666" text-anchor="middle">01:30</text>
<rect x="0" y="552" width="1038" height="2" fill="#f4f4f4"/>
<rect x="904.6" y="517.6" width="1.2" height="1.6" fill="#444"/>
<line x1="0" y1="551.5" x2="1038" y2="551.5" stroke="#dcdcdc" stroke-width="1"/>
<rect x="982.3" y="289.4" width="46.6" height="18.4" rx="2.5" fill="#4aa7d9"/>
<text x="991" y="303.7" font-size="11.6" font-weight="bold" fill="#ffffff">1,8019</text>
<rect x="982.3" y="399.2" width="46.8" height="17.5" rx="2.5" fill="#555a68"/>
<text x="991" y="413.5" font-size="11.6" font-weight="bold" fill="#ffffff">1,8002</text>
<rect x="982.3" y="443" width="46.8" height="18.6" rx="2.5" fill="#ff0000"/>
<text x="991" y="457.3" font-size="11.6" fill="#8a0000">1,7995</text>
<rect x="496.3" y="531.8" width="76.7" height="18.8" rx="3.5" fill="#555a68"/>
<text x="535" y="545.2" font-size="11" font-weight="bold" fill="#ffffff" text-anchor="middle">14/11 00:39</text>
<line x1="535.5" y1="531" x2="535.5" y2="554" stroke="#3d3e47" stroke-width="1"/>
</svg>
<div id="hdr">
  <svg style="position:absolute;left:23px;top:18px" width="31" height="16" viewBox="0 0 31 16">
    <rect x="0" y="0" width="17.1" height="11" rx="0.8" fill="#222c6e"/>
    <path d="M0.5 0.3L16.6 10.7M16.6 0.3L0.5 10.7" stroke="#cfb0c8" stroke-width="1.5"/>
    <path d="M0.5 0.3L16.6 10.7M16.6 0.3L0.5 10.7" stroke="#d8304a" stroke-width="0.7"/>
    <path d="M8.55 0V11M0 5.5H17.1" stroke="#eec4cc" stroke-width="3"/>
    <path d="M8.55 0V11M0 5.5H17.1" stroke="#e23a2e" stroke-width="1.9"/>
    <rect x="13.1" y="3.4" width="16.9" height="11.3" rx="0.6" fill="#3349b4"/>
    <path d="M13.4 3.7L20.6 8.8M20.6 3.7L13.4 8.8" stroke="#e8e4f4" stroke-width="1.1"/>
    <path d="M17 3.4V9M13.1 6.2H20.9" stroke="#f1eaf3" stroke-width="2"/>
    <path d="M17 3.4V9M13.1 6.2H20.9" stroke="#dd4660" stroke-width="1"/>
    <circle cx="17.5" cy="12.5" r="0.95" fill="#fff"/>
    <circle cx="25.5" cy="6.4" r="0.75" fill="#fff"/>
    <circle cx="27.6" cy="8.6" r="0.75" fill="#fff"/>
    <circle cx="25.5" cy="12.5" r="0.75" fill="#fff"/>
    <circle cx="23.4" cy="9.3" r="0.5" fill="#dfe3ff"/>
  </svg>
  <div class="sym">GBPAUD</div>
  <div class="sep" style="left:346px"></div>
  <div class="pbtn" style="left:353px"><div class="k">V</div><div class="v"><span>1.8019</span></div></div>
  <div class="pbtn" style="left:486px"><div class="k">A</div><div class="v"><span>1.8023</span></div></div>
  <div class="sep" style="left:610px"></div>
  <div id="cross">
    <svg width="41.5" height="34.5" viewBox="0 0 41.5 34.5"><path d="M7.5 16.8H16.6M22.6 16.8H31.3M19.2 5V12.1M19.2 20.2V28.9" stroke="#fff" stroke-width="2" fill="none"/></svg>
  </div>
  <div class="sep" style="left:666px"></div>
  <!-- compare icon -->
  <svg style="position:absolute;left:682px;top:16px" width="26" height="22" viewBox="0 0 26 22">
    <path d="M0.9 20V12.5L5.8 7.6L9.3 11.9L10.6 10.7V20Z" fill="#e3e3e5"/>
    <path d="M13.9 20V7L16.8 4.1L19.1 7.3L24.9 1.8V20Z" fill="#e3e3e5"/>
    <path d="M1.2 12.6L5.8 7.7L9.3 11.9L10.5 10.6" fill="none" stroke="#a3a3a8" stroke-width="1.8" stroke-linejoin="round"/>
    <path d="M14.2 7.1L16.8 4.2L19.1 7.3L24.3 1.9" fill="none" stroke="#a3a3a8" stroke-width="1.8" stroke-linejoin="round"/>
    <path d="M12.4 0.9V21.1" stroke="#a3a3a8" stroke-width="1.3" stroke-dasharray="4 1.4"/>
  </svg>
  <div class="dd" style="left:717.4px"></div>
  <div class="sep" style="left:738px"></div>
  <div class="tf">1M</div>
  <div class="dd" style="left:778px"></div>
  <div class="sep" style="left:799px"></div>
  <!-- candle icon -->
  <svg style="position:absolute;left:816px;top:11px" width="27" height="30" viewBox="0 0 27 30">
    <g fill="#8d9098">
    <rect x="3.0" y="6" width="2" height="21.2"/><rect x="1.2" y="12.1" width="5.6" height="11.2"/>
    <rect x="12.0" y="1" width="2" height="21.8"/><rect x="10" y="7.9" width="6" height="12"/>
    <rect x="20.7" y="6.7" width="2" height="21.8"/><rect x="18.8" y="11.7" width="6" height="10"/>
    </g>
  </svg>
  <div class="dd" style="left:850.3px"></div>
  <div class="sep" style="left:871px"></div>
  <!-- draw icon -->
  <svg style="position:absolute;left:887px;top:15px" width="26" height="23" viewBox="0 0 26 23">
    <path d="M6.3 10.6L20.2 1.6L23.6 4.2L11.5 15.5Z" fill="#9b9b9e"/>
    <path d="M5.4 12.1L9.8 16.8L4.8 18.1L3.3 14.9Z" fill="#a3a3a6"/>
    <circle cx="2.5" cy="19.6" r="0.9" fill="#b0b0b0"/>
    <g fill="#b1b1b4">
    <path d="M9.3 21L12.3 18.2V21Z"/>
    <path d="M14.1 16.6L17.9 13.1V21H14.1Z"/>
    <path d="M19.3 11.7L23.6 7.7V21H19.3Z"/>
    </g>
  </svg>
  <div class="sep" style="left:927px"></div>
  <!-- gear -->
  <svg style="position:absolute;left:943px;top:13px" width="25" height="25" viewBox="-12.5 -12.5 25 25">
    <g fill="#9c9c9c">
      <circle r="9.3"/>
      <rect x="-3" y="-12.1" width="6" height="24.2" rx="1.2"/>
      <rect x="-3" y="-12.1" width="6" height="24.2" rx="1.2" transform="rotate(45)"/>
      <rect x="-3" y="-12.1" width="6" height="24.2" rx="1.2" transform="rotate(90)"/>
      <rect x="-3" y="-12.1" width="6" height="24.2" rx="1.2" transform="rotate(135)"/>
    </g>
    <circle r="4.1" fill="#fafafa"/>
  </svg>
  <div class="sep" style="left:983px"></div><div class="sep" style="left:1037px"></div>
  <!-- compress -->
  <svg style="position:absolute;left:997px;top:11px" width="28" height="28" viewBox="0 0 28 28">
    <g stroke="#9c9c9c" stroke-width="3.3" fill="#9c9c9c">
      <path d="M24.2 3.4L18.2 9.4" fill="none"/>
      <path d="M15 12.6V3.6L24 12.6Z" stroke="none"/>
      <path d="M2.6 24.4L8.6 18.4" fill="none"/>
      <path d="M11.8 15.2V24.2L2.8 15.2Z" stroke="none"/>
    </g>
  </svg>
</div>
<div id="leftbar"></div><div style="position:absolute;left:0;top:280px;width:2px;height:221.5px;background:#25252d;z-index:6"></div><div id="leftsh"></div>
<!-- zoom controls -->
<div class="ctl" style="left:459.5px;top:442.8px;width:96.3px;height:35.2px;">
  <svg width="96.3" height="35.2" viewBox="0 0 96.3 35.2">
    <line x1="47.7" y1="0" x2="47.7" y2="35.2" stroke="#dcdcdc" stroke-width="1"/>
    <path d="M17.9 17H32.5" stroke="#6fb6e2" stroke-width="2.8"/>
    <path d="M65 17H79.4M72.2 10V24.2" stroke="#6fb6e2" stroke-width="2.8"/>
  </svg>
</div>
<div class="ctl" style="left:567.6px;top:442.8px;width:49.7px;height:35.2px;">
  <svg width="49.7" height="35.2" viewBox="0 0 49.7 35.2">
    <g opacity="0.88"><path d="M30.3 9.5L19.4 17L30.3 23.1" stroke="#5fb0e4" stroke-width="1.8" fill="none"/>
    <circle cx="19.4" cy="17" r="3.9" fill="#5fb0e4"/>
    <circle cx="30.3" cy="9.5" r="3.1" fill="#5fb0e4"/>
    <circle cx="30.3" cy="23.1" r="3.1" fill="#5fb0e4"/></g>
  </svg>
</div>
<div class="ctl" style="left:939px;top:452px;width:33.3px;height:27px;background:rgba(247,247,247,0.93);">
  <svg width="33.3" height="27" viewBox="0 0 33.3 27">
    <path d="M9.6 6.2L16.6 13.1L9.6 20M17 6.2L24 13.1L17 20" stroke="#666" stroke-width="2.4" fill="none"/>
  </svg>
</div>
</body>
</html>
